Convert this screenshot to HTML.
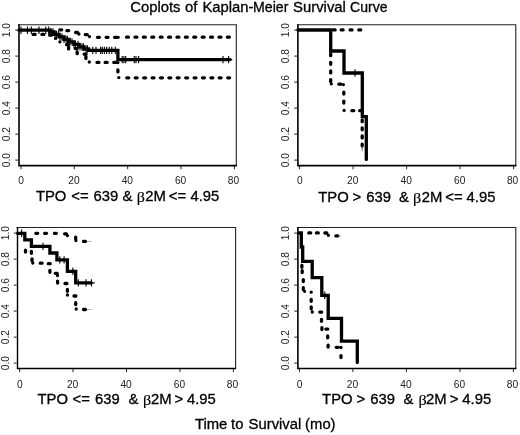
<!DOCTYPE html>
<html>
<head>
<meta charset="utf-8">
<title>Coplots of Kaplan-Meier Survival Curve</title>
<style>
html,body{margin:0;padding:0;background:#fff;}
svg{display:block;will-change:transform;filter:grayscale(1);}
text{font-family:"Liberation Sans",Arial,Helvetica,sans-serif;fill:#000;}
.tk{font-size:10.2px;fill:#222;}
.lb{font-size:14.5px;stroke:#000;stroke-width:0.3px;}
.sv{fill:none;stroke:#000;stroke-width:3.3;stroke-linejoin:miter;stroke-linecap:round;}
.bt{font-family:"Liberation Serif","DejaVu Serif",serif;font-size:14.5px;stroke-width:0.15px;}
.dt{fill:none;stroke:#000;stroke-width:3.3;stroke-linecap:round;}
.ci{fill:none;stroke:#000;stroke-width:3.0;stroke-linecap:round;stroke-dasharray:1.8 6.56;}
</style>
</head>
<body>
<svg width="520" height="435" viewBox="0 0 520 435">
<rect width="520" height="435" fill="#fff"/>
<g transform="translate(0 12.1) scale(1 1.0)">
<text class="lb" x="130.2" y="0" style="font-size:14.85px">Coplots</text>
<text class="lb" x="185.1" y="0" style="font-size:14.85px">of</text>
<text class="lb" x="202.4" y="0" style="font-size:14.85px">Kaplan-</text>
<text class="lb" x="253.0" y="0" style="font-size:14.85px" textLength="35.4" lengthAdjust="spacingAndGlyphs">Meier</text>
<text class="lb" x="293.1" y="0" style="font-size:14.85px">Survival</text>
<text class="lb" x="350.1" y="0" style="font-size:14.85px" textLength="37.5" lengthAdjust="spacingAndGlyphs">Curve</text>
</g>
<path d="M18.0 24.8H236.3V166.1" fill="none" stroke="#222" stroke-width="1.1"/>
<path d="M19.0 24.3V165.6H236.8" fill="none" stroke="#000" stroke-width="1.6" stroke-linejoin="miter"/>
<text class="tk" x="21.2" y="183.7" text-anchor="middle">0</text>
<text class="tk" x="73.9" y="183.7" text-anchor="middle">20</text>
<text class="tk" x="127.3" y="183.7" text-anchor="middle">40</text>
<text class="tk" x="180.6" y="183.7" text-anchor="middle">60</text>
<text class="tk" x="233.4" y="183.7" text-anchor="middle">80</text>
<text class="tk" transform="translate(10.1 160.1) rotate(-90)" text-anchor="middle">0.0</text>
<text class="tk" transform="translate(10.1 134.1) rotate(-90)" text-anchor="middle">0.2</text>
<text class="tk" transform="translate(10.1 108.1) rotate(-90)" text-anchor="middle">0.4</text>
<text class="tk" transform="translate(10.1 82.1) rotate(-90)" text-anchor="middle">0.6</text>
<text class="tk" transform="translate(10.1 56.1) rotate(-90)" text-anchor="middle">0.8</text>
<text class="tk" transform="translate(10.1 30.1) rotate(-90)" text-anchor="middle">1.0</text>
<path d="M21.0 166.0v3.2M74.3 166.0v3.2M127.7 166.0v3.2M181.0 166.0v3.2M234.4 166.0v3.2M18.2 160.1h-2.9M18.2 134.1h-2.9M18.2 108.1h-2.9M18.2 82.1h-2.9M18.2 56.1h-2.9M18.2 30.1h-2.9" stroke="#222" stroke-width="1" fill="none"/>
<path class="dt" d="M59.8 29.8h1.9M66.8 30.6h1.9M75.6 32.5h1.9M78.9 34.0h0.01M85.3 34.6h1.9M89.5 36.6h0.01M97.5 37.3h1.9M106.1 37.3h1.9M114.6 37.3h1.9M118.2 37.3h0.01M126.5 37.2h1.9M135.0 37.2h1.9M143.4 37.2h1.9M151.8 37.2h1.9M160.2 37.2h1.9M168.6 37.2h1.9M177.0 37.2h1.9M185.4 37.2h1.9M193.8 37.2h1.9M202.2 37.2h1.9M210.6 37.2h1.9M219.0 37.2h1.9M227.4 37.2h1.9M33.2 34.4h1.9M41.9 34.4h1.9M49.6 35.2h1.9M55.6 38.4h0.01M59.9 41.9h0.01M66.5 44.6h1.9M68.6 47.0v1.9M75.2 48.6h1.9M77.2 51.8v1.9M84.2 54.2h1.9M85.9 56.6v1.9M89.3 62.0h0.01M97.0 62.4h1.9M105.2 62.4h1.9M113.8 62.4h1.9M117.9 62.6h0.01M117.9 70.0v1.9M118.8 77.6h0.01M126.8 77.8h1.9M135.2 77.8h1.9M143.7 77.8h1.9M152.1 77.8h1.9M160.5 77.8h1.9M168.9 77.8h1.9M177.2 77.8h1.9M185.7 77.8h1.9M194.1 77.8h1.9M202.5 77.8h1.9M210.9 77.8h1.9M219.2 77.8h1.9M227.7 77.8h1.9"/>
<path class="sv" d="M19.0 30.2H50.0V32.0H54.0V34.4H59.0V36.9H64.0V39.4H69.0V41.9H74.0V44.4H79.0V46.9H84.0V49.0H88.5V50.4H117.9V59.6H230.0"/>
<path d="M21.0 26.5v7.4M27.5 26.5v7.4M31.3 26.5v7.4M39.0 26.5v7.4M45.8 26.5v7.4M48.7 26.5v7.4M51.0 28.3v7.4M53.0 28.3v7.4M55.0 30.7v7.4M56.5 30.7v7.4M58.5 30.7v7.4M60.0 33.2v7.4M62.0 33.2v7.4M64.0 35.7v7.4M66.0 35.7v7.4M67.5 35.7v7.4M70.0 38.2v7.4M72.0 38.2v7.4M74.0 40.7v7.4M75.5 40.7v7.4M78.0 40.7v7.4M80.0 43.2v7.4M82.0 43.2v7.4M83.5 43.2v7.4M86.0 45.3v7.4M87.5 45.3v7.4M92.8 46.7v7.4M96.0 46.7v7.4M100.6 46.7v7.4M102.3 46.7v7.4M104.4 46.7v7.4M106.6 46.7v7.4M109.2 46.7v7.4M111.8 46.7v7.4M115.3 46.7v7.4M122.2 55.9v7.4M123.9 55.9v7.4M125.7 55.9v7.4M134.3 55.9v7.4M136.0 55.9v7.4M138.6 55.9v7.4M223.0 55.9v7.4M228.6 55.9v7.4" stroke="#000" stroke-width="1.1" fill="none"/>
<path d="M228 59.6H232.3" stroke="#000" stroke-width="1.2"/>
<g transform="translate(0 201.3) scale(1 1.04)">
<text class="lb" x="35.9" y="0" style="font-size:14.85px">TPO</text>
<text class="lb" x="71.3" y="0" style="font-size:14.85px">&lt;=</text>
<text class="lb" x="93.6" y="0" style="font-size:14.85px">639</text>
<text class="lb" x="122.4" y="0" style="font-size:14.85px">&amp;</text>
<text class="lb bt" x="136.8" y="1.0" textLength="8.2" lengthAdjust="spacingAndGlyphs">β</text>
<text class="lb" x="145.3" y="0" style="font-size:14.85px">2M</text>
<text class="lb" x="168.8" y="0" style="font-size:14.85px">&lt;=</text>
<text class="lb" x="190.5" y="0" style="font-size:14.85px">4.95</text>
</g>
<path d="M296.9 24.8H515.8V166.1" fill="none" stroke="#222" stroke-width="1.1"/>
<path d="M297.9 24.3V165.6H516.3" fill="none" stroke="#000" stroke-width="1.6" stroke-linejoin="miter"/>
<text class="tk" x="299.8" y="183.7" text-anchor="middle">0</text>
<text class="tk" x="352.7" y="183.7" text-anchor="middle">20</text>
<text class="tk" x="406.2" y="183.7" text-anchor="middle">40</text>
<text class="tk" x="459.7" y="183.7" text-anchor="middle">60</text>
<text class="tk" x="512.6" y="183.7" text-anchor="middle">80</text>
<text class="tk" transform="translate(289.0 160.1) rotate(-90)" text-anchor="middle">0.0</text>
<text class="tk" transform="translate(289.0 134.1) rotate(-90)" text-anchor="middle">0.2</text>
<text class="tk" transform="translate(289.0 108.1) rotate(-90)" text-anchor="middle">0.4</text>
<text class="tk" transform="translate(289.0 82.1) rotate(-90)" text-anchor="middle">0.6</text>
<text class="tk" transform="translate(289.0 56.1) rotate(-90)" text-anchor="middle">0.8</text>
<text class="tk" transform="translate(289.0 30.1) rotate(-90)" text-anchor="middle">1.0</text>
<path d="M299.6 166.0v3.2M353.1 166.0v3.2M406.6 166.0v3.2M460.1 166.0v3.2M513.6 166.0v3.2M297.1 160.1h-2.9M297.1 134.1h-2.9M297.1 108.1h-2.9M297.1 82.1h-2.9M297.1 56.1h-2.9M297.1 30.1h-2.9" stroke="#222" stroke-width="1" fill="none"/>
<path class="dt" d="M333.2 29.9h1.9M341.2 29.9h1.9M350.1 29.9h1.9M358.8 29.9h1.9M330.7 53.8v1.9M330.7 62.4v1.9M330.7 71.0v1.9M330.7 79.6v1.9M331.3 83.8h0.01M338.9 84.2h1.9M343.4 84.6h0.01M343.8 92.2v1.9M343.8 101.1v1.9M344.1 110.4h0.01M351.9 110.7h1.9M359.7 110.7h1.9M362.2 119.8v1.9M362.2 127.9v1.9M362.2 136.0v1.9M362.2 144.2v1.9"/>
<path class="sv" d="M298.0 30.0H330.7V51.0H344.0V73.0H362.3V116.7H366.3V159.4"/>
<path d="M355.0 69.3v7.4" stroke="#000" stroke-width="1.1" fill="none"/>
<path d="M362.2 146V151.2" stroke="#555" stroke-width="0.8"/>
<g transform="translate(0 201.5) scale(1 1.04)">
<text class="lb" x="318.2" y="0" style="font-size:14.85px">TPO</text>
<text class="lb" x="352.4" y="0" style="font-size:14.85px">&gt;</text>
<text class="lb" x="366.2" y="0" style="font-size:14.85px">639</text>
<text class="lb" x="399.1" y="0" style="font-size:14.85px">&amp;</text>
<text class="lb bt" x="412.9" y="1.0" textLength="8.2" lengthAdjust="spacingAndGlyphs">β</text>
<text class="lb" x="421.7" y="0" style="font-size:14.85px">2M</text>
<text class="lb" x="445.3" y="0" style="font-size:14.85px">&lt;=</text>
<text class="lb" x="466.6" y="0" style="font-size:14.85px">4.95</text>
</g>
<path d="M16.5 227.5H235.6V369.0" fill="none" stroke="#222" stroke-width="1.1"/>
<path d="M17.5 227.0V368.5H236.1" fill="none" stroke="#000" stroke-width="1.4" stroke-linejoin="miter"/>
<text class="tk" x="19.8" y="387.9" text-anchor="middle">0</text>
<text class="tk" x="72.6" y="387.9" text-anchor="middle">20</text>
<text class="tk" x="126.1" y="387.9" text-anchor="middle">40</text>
<text class="tk" x="179.5" y="387.9" text-anchor="middle">60</text>
<text class="tk" x="232.4" y="387.9" text-anchor="middle">80</text>
<text class="tk" transform="translate(8.6 363.1) rotate(-90)" text-anchor="middle">0.0</text>
<text class="tk" transform="translate(8.6 337.1) rotate(-90)" text-anchor="middle">0.2</text>
<text class="tk" transform="translate(8.6 311.1) rotate(-90)" text-anchor="middle">0.4</text>
<text class="tk" transform="translate(8.6 285.1) rotate(-90)" text-anchor="middle">0.6</text>
<text class="tk" transform="translate(8.6 259.1) rotate(-90)" text-anchor="middle">0.8</text>
<text class="tk" transform="translate(8.6 233.1) rotate(-90)" text-anchor="middle">1.0</text>
<path d="M19.6 368.9v3.2M73.0 368.9v3.2M126.5 368.9v3.2M179.9 368.9v3.2M233.4 368.9v3.2M16.7 363.1h-2.9M16.7 337.1h-2.9M16.7 311.1h-2.9M16.7 285.1h-2.9M16.7 259.1h-2.9M16.7 233.1h-2.9" stroke="#222" stroke-width="1" fill="none"/>
<path class="dt" d="M35.8 233.3h1.9M44.6 233.3h1.9M54.4 233.3h1.9M64.6 233.8h1.9M67.4 235.6h0.01M75.7 237.1v1.9M75.9 240.6h0.01M83.5 241.4h1.9M25.5 250.2v1.9M31.4 251.4v1.9M32.0 258.9v1.9M32.8 263.0h0.01M40.2 263.2h1.9M48.3 263.7h1.9M49.9 270.4v1.9M55.3 273.3h1.9M57.5 275.5h0.01M57.6 281.1v1.9M65.0 283.5h1.9M67.4 289.4v1.9M67.4 295.0h0.01M74.0 296.0h1.9M75.7 302.7v1.9M76.2 309.0h0.01M83.5 309.5h1.9"/>
<path class="sv" d="M17.6 233.3H24.8V239.9H31.4V246.4H49.9V253.0H56.9V259.9H67.4V271.3H75.7V282.9H91.0"/>
<path d="M21.6 229.6v7.4M43.0 242.7v7.4M59.8 256.2v7.4M64.1 256.2v7.4M72.9 267.6v7.4M78.3 279.2v7.4M86.0 279.2v7.4M91.5 279.2v7.4" stroke="#000" stroke-width="1.1" fill="none"/>
<path d="M90 282.9H94.8" stroke="#000" stroke-width="1.2"/><path d="M87 241.4H91.5M87 309.5H91.5" stroke="#999" stroke-width="0.8"/>
<g transform="translate(0 404.1) scale(1 1.04)">
<text class="lb" x="37.5" y="0" style="font-size:14.85px">TPO</text>
<text class="lb" x="72.6" y="0" style="font-size:14.85px">&lt;=</text>
<text class="lb" x="95.0" y="0" style="font-size:14.85px">639</text>
<text class="lb" x="128.4" y="0" style="font-size:14.85px">&amp;</text>
<text class="lb bt" x="143.1" y="1.0" textLength="8.2" lengthAdjust="spacingAndGlyphs">β</text>
<text class="lb" x="151.1" y="0" style="font-size:14.85px">2M</text>
<text class="lb" x="174.6" y="0" style="font-size:14.85px">&gt;</text>
<text class="lb" x="186.9" y="0" style="font-size:14.85px">4.95</text>
</g>
<path d="M296.9 227.5H515.8V369.0" fill="none" stroke="#222" stroke-width="1.1"/>
<path d="M297.9 227.0V368.5H516.3" fill="none" stroke="#000" stroke-width="1.6" stroke-linejoin="miter"/>
<text class="tk" x="299.6" y="387.9" text-anchor="middle">0</text>
<text class="tk" x="352.5" y="387.9" text-anchor="middle">20</text>
<text class="tk" x="406.0" y="387.9" text-anchor="middle">40</text>
<text class="tk" x="459.5" y="387.9" text-anchor="middle">60</text>
<text class="tk" x="512.4" y="387.9" text-anchor="middle">80</text>
<text class="tk" transform="translate(289.0 363.1) rotate(-90)" text-anchor="middle">0.0</text>
<text class="tk" transform="translate(289.0 337.1) rotate(-90)" text-anchor="middle">0.2</text>
<text class="tk" transform="translate(289.0 311.1) rotate(-90)" text-anchor="middle">0.4</text>
<text class="tk" transform="translate(289.0 285.1) rotate(-90)" text-anchor="middle">0.6</text>
<text class="tk" transform="translate(289.0 259.1) rotate(-90)" text-anchor="middle">0.8</text>
<text class="tk" transform="translate(289.0 233.1) rotate(-90)" text-anchor="middle">1.0</text>
<path d="M299.4 368.9v3.2M352.9 368.9v3.2M406.4 368.9v3.2M459.9 368.9v3.2M513.4 368.9v3.2M297.1 363.1h-2.9M297.1 337.1h-2.9M297.1 311.1h-2.9M297.1 285.1h-2.9M297.1 259.1h-2.9M297.1 233.1h-2.9" stroke="#222" stroke-width="1" fill="none"/>
<path class="dt" d="M308.8 232.9h1.9M316.4 232.9h1.9M324.9 233.0h1.9M328.4 235.3h0.01M335.9 235.9h1.9M301.9 265.4v1.9M302.2 270.6v1.9M303.3 279.6v1.9M303.3 287.7v1.9M304.6 291.3h0.01M311.2 292.2h0.01M311.2 299.4v1.9M311.2 306.9v1.9M312.3 312.0h0.01M319.8 312.1h1.9M321.5 319.4v1.9M321.9 327.6v1.9M325.9 329.1h1.9M327.7 335.9v1.9M328.1 345.1v1.9M336.2 347.3h1.9M341.0 347.5h0.01M341.0 355.7v1.9"/>
<path class="sv" d="M299.0 233.0H301.3V247.0H302.7V261.4H312.2V277.7H321.8V295.3H328.2V318.3H341.5V341.1H357.3V362.6"/>
<path d="M324.8 291.6v7.4" stroke="#000" stroke-width="1.1" fill="none"/>
<path d="M338.5 235.9H341" stroke="#999" stroke-width="0.8"/>
<g transform="translate(0 404.1) scale(1 1.04)">
<text class="lb" x="322.1" y="0" style="font-size:14.85px">TPO</text>
<text class="lb" x="356.6" y="0" style="font-size:14.85px">&gt;</text>
<text class="lb" x="370.3" y="0" style="font-size:14.85px">639</text>
<text class="lb" x="403.4" y="0" style="font-size:14.85px">&amp;</text>
<text class="lb bt" x="418.4" y="1.0" textLength="8.2" lengthAdjust="spacingAndGlyphs">β</text>
<text class="lb" x="426.1" y="0" style="font-size:14.85px">2M</text>
<text class="lb" x="449.8" y="0" style="font-size:14.85px">&gt;</text>
<text class="lb" x="462.3" y="0" style="font-size:14.85px">4.95</text>
</g>
<g transform="translate(0 429.4) scale(1 1.04)">
<text class="lb" x="194.9" y="0" style="font-size:14.85px">Time</text>
<text class="lb" x="231.1" y="0" style="font-size:14.85px">to</text>
<text class="lb" x="248.6" y="0" style="font-size:14.85px">Survival</text>
<text class="lb" x="305.1" y="0" style="font-size:14.85px">(mo)</text>
</g>
</svg>
</body>
</html>
